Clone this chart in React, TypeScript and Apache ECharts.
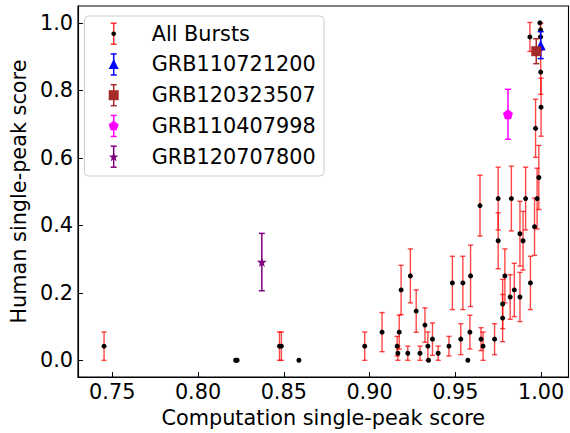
import React, { useEffect, useRef } from "react";
import * as echarts from "echarts";

// ---- Data ----
const compScore = [
  0.7452, 0.8219, 0.8228, 0.8475, 0.8486, 0.8588, 0.8972, 0.9073, 0.9161, 0.9165,
  0.9173, 0.9184, 0.9223, 0.9238, 0.9272, 0.9294, 0.9323, 0.934, 0.9344, 0.9367,
  0.94, 0.9463, 0.9483, 0.9532, 0.9544, 0.9573, 0.9585, 0.9589, 0.9644, 0.965,
  0.9662, 0.9729, 0.975, 0.975, 0.9776, 0.9776, 0.9789, 0.982, 0.9827, 0.9844,
  0.9877, 0.9877, 0.9895, 0.991, 0.9938, 0.9962, 0.9968, 0.9977, 0.9987, 0.9935,
  0.9993, 0.9997, 0.9997, 0.9998, 1.0,
];
const humanScore = [
  0.0417, 0, 0, 0.0417, 0.0417, 0, 0.0417, 0.0833, 0.0417, 0.0208,
  0.0833, 0.2083, 0.0208, 0.25, 0.1458, 0.0208, 0.1042, 0.0417, 0, 0.0625,
  0.0208, 0.0417, 0.2292, 0.0625, 0.2292, 0, 0.0833, 0.25, 0.4583, 0.0625,
  0.0417, 0.0625, 0.4792, 0.3542, 0.1667, 0.125, 0.25, 0.1875, 0.4792, 0.2083,
  0.375, 0.1875, 0.3542, 0.4792, 0.2292, 0.3958, 0.6875, 0.4792, 0.5417, 0.9583,
  1.0, 0.9792, 0.9583, 0.8542, 0.75,
];
const humanErr = [
  0.042, 0, 0, 0.042, 0.042, 0, 0.042, 0.058, 0.029, 0.021,
  0.05, 0.073, 0.021, 0.08, 0.063, 0.021, 0.051, 0.042, 0, 0.048,
  0.021, 0.029, 0.079, 0.046, 0.079, 0, 0.05, 0.091, 0.09, 0.034,
  0.042, 0.046, 0.093, 0.083, 0.073, 0.07, 0.08, 0.066, 0.096, 0.079,
  0.096, 0.073, 0.087, 0.093, 0.079, 0.085, 0.086, 0.09, 0.095, 0.043,
  0, 0.02, 0.04, 0.066, 0.086,
];

const specialNames = ["GRB110721200", "GRB120323507", "GRB110407998", "GRB120707800"];
const specialX = [0.9998, 0.9972, 0.9807, 0.8372];
const specialY = [0.934, 0.916, 0.729, 0.291];
const specialErr = [0.04, 0.037, 0.074, 0.085];

const xTicks = [0.75, 0.8, 0.85, 0.9, 0.95, 1.0];
const yTicks = [0.0, 0.2, 0.4, 0.6, 0.8, 1.0];

// ---- Styling ----
const FONT = "DejaVu Sans";
const FS = 20.8;
const specialColors = ["#0000ff", "#a52a2a", "#ff00ff", "#800080"];
const PENTA = "path://M50,0 L97.6,34.5 L79.4,90.5 L20.6,90.5 L2.4,34.5 Z";
const STAR =
  "path://M50,0 L61.2,34.5 L97.6,34.5 L68.2,55.9 L79.4,90.5 L50,69.1 L20.6,90.5 L31.8,55.9 L2.4,34.5 L38.8,34.5 Z";
const specialSymbols = ["triangle", "rect", PENTA, STAR];
const specialSizes = [10, 10, 10, 10];

function errRender(color: string, cap: number, width: number) {
  return (params: any, api: any) => {
    const x = api.value(0);
    const lo = api.value(1);
    const hi = api.value(2);
    const a = api.coord([x, hi]);
    const b = api.coord([x, lo]);
    const s = { stroke: color, lineWidth: width };
    return {
      type: "group",
      children: [
        { type: "line", shape: { x1: a[0], y1: a[1], x2: b[0], y2: b[1] }, style: s },
        { type: "line", shape: { x1: a[0] - cap, y1: a[1], x2: a[0] + cap, y2: a[1] }, style: s },
        { type: "line", shape: { x1: b[0] - cap, y1: b[1], x2: b[0] + cap, y2: b[1] }, style: s },
      ],
    };
  };
}

function polyPts(cx: number, cy: number, r: number, n: number, inner?: number) {
  const pts: number[][] = [];
  const m = inner ? n * 2 : n;
  for (let i = 0; i < m; i++) {
    const ang = -Math.PI / 2 + (i * 2 * Math.PI) / m;
    const rr = inner && i % 2 === 1 ? inner : r;
    pts.push([cx + rr * Math.cos(ang), cy + rr * Math.sin(ang)]);
  }
  return pts;
}

function buildLegend() {
  const bx = 84.5, by = 16, bw = 239.5, bh = 160;
  const mx = 113.7, tx = 151.7;
  const rows = ["All Bursts", ...specialNames];
  const barColors = ["rgba(255,0,0,0.8)", ...specialColors];
  const children: any[] = [
    {
      type: "rect",
      shape: { x: bx, y: by, width: bw, height: bh, r: 4 },
      style: { fill: "rgba(255,255,255,0.8)", stroke: "#cccccc", lineWidth: 1 },
    },
  ];
  rows.forEach((name, i) => {
    const cy = 33.7 + i * 30.75;
    const st = { stroke: barColors[i], lineWidth: 1.5 };
    children.push({ type: "line", shape: { x1: mx, y1: cy - 10.5, x2: mx, y2: cy + 10.5 }, style: st });
    children.push({ type: "line", shape: { x1: mx - 3, y1: cy - 10.5, x2: mx + 3, y2: cy - 10.5 }, style: st });
    children.push({ type: "line", shape: { x1: mx - 3, y1: cy + 10.5, x2: mx + 3, y2: cy + 10.5 }, style: st });
    if (i === 0) {
      children.push({ type: "circle", shape: { cx: mx, cy, r: 2.3 }, style: { fill: "#000" } });
    } else if (i === 1) {
      children.push({ type: "polygon", shape: { points: [[mx, cy - 5.5], [mx + 5, cy + 4.5], [mx - 5, cy + 4.5]] }, style: { fill: specialColors[0] } });
    } else if (i === 2) {
      children.push({ type: "rect", shape: { x: mx - 5, y: cy - 5, width: 10, height: 10 }, style: { fill: specialColors[1] } });
    } else if (i === 3) {
      children.push({ type: "polygon", shape: { points: polyPts(mx, cy, 5.3, 5) }, style: { fill: specialColors[2] } });
    } else {
      children.push({ type: "polygon", shape: { points: polyPts(mx, cy + 0.5, 5, 5, 2.1) }, style: { fill: specialColors[3] } });
    }
    children.push({
      type: "text",
      x: tx,
      y: cy,
      style: { text: name, fontSize: FS, fontFamily: FONT, fill: "#000", verticalAlign: "middle", align: "left" },
    });
  });
  return [{ type: "group", z: 100, children }];
}

export default function App() {
  const ref = useRef<HTMLDivElement>(null);
  useEffect(() => {
    if (!ref.current) return;
    const chart = echarts.init(ref.current, undefined, { renderer: "svg" });

    const allErrData = compScore
      .map((x, i) => [x, humanScore[i] - humanErr[i], humanScore[i] + humanErr[i], humanErr[i]])
      .filter((d) => d[3] > 0);
    const allPts = compScore.map((x, i) => [x, humanScore[i]]);

    const series: any[] = [
      {
        name: "All Bursts err",
        type: "custom",
        renderItem: errRender("rgba(255,0,0,0.72)", 2.6, 1.4),
        data: allErrData,
        encode: { x: 0, y: [1, 2] },
        z: 2,
        silent: true,
      },
      {
        name: "All Bursts",
        type: "scatter",
        data: allPts,
        symbol: "circle",
        symbolSize: 5,
        itemStyle: { color: "#000", opacity: 1 },
        z: 3,
        silent: true,
      },
    ];
    specialNames.forEach((n, i) => {
      series.push({
        name: n + " err",
        type: "custom",
        renderItem: errRender(specialColors[i], 3, 1.5),
        data: [[specialX[i], specialY[i] - specialErr[i], specialY[i] + specialErr[i]]],
        encode: { x: 0, y: [1, 2] },
        z: 4,
        silent: true,
      });
      series.push({
        name: n,
        type: "scatter",
        data: [[specialX[i], specialY[i]]],
        symbol: specialSymbols[i],
        symbolSize: specialSizes[i],
        itemStyle: { color: specialColors[i], opacity: 1 },
        z: 5,
        silent: true,
      });
    });

    chart.setOption({
      animation: false,
      backgroundColor: "#fff",
      textStyle: { fontFamily: FONT },
      grid: {
        left: 73.3,
        top: 6,
        right: 1.5,
        bottom: 55.3,
        show: true,
        borderColor: "#000",
        borderWidth: 1.1,
        backgroundColor: "transparent",
      },
      xAxis: {
        type: "value",
        min: 0.73,
        max: 1.016,
        name: "Computation single-peak score",
        nameLocation: "middle",
        nameGap: 29,
        nameTextStyle: { fontSize: FS, fontFamily: FONT, color: "#000" },
        axisLine: { show: true, onZero: false, lineStyle: { color: "#000", width: 1.1 } },
        axisTick: { show: true, inside: true, length: 5, customValues: xTicks, lineStyle: { color: "#000", width: 1 } },
        axisLabel: {
          customValues: xTicks,
          formatter: (v: number) => v.toFixed(2),
          fontSize: FS,
          fontFamily: FONT,
          color: "#000",
          margin: 4,
        },
        splitLine: { show: false },
      },
      yAxis: {
        type: "value",
        min: -0.05,
        max: 1.05,
        name: "Human single-peak score",
        nameLocation: "middle",
        nameGap: 45,
        nameTextStyle: { fontSize: FS, fontFamily: FONT, color: "#000" },
        axisLine: { show: true, onZero: false, lineStyle: { color: "#000", width: 1.1 } },
        axisTick: { show: true, inside: true, length: 5, customValues: yTicks, lineStyle: { color: "#000", width: 1 } },
        axisLabel: {
          customValues: yTicks,
          formatter: (v: number) => v.toFixed(1),
          fontSize: FS,
          fontFamily: FONT,
          color: "#000",
          margin: 5,
        },
        splitLine: { show: false },
      },
      graphic: buildLegend(),
      series,
    });
    return () => chart.dispose();
  }, []);
  return (
    <div
      ref={ref}
      style={{ position: "fixed", left: 0, top: 0, width: 570, height: 433, background: "#fff" }}
    />
  );
}
